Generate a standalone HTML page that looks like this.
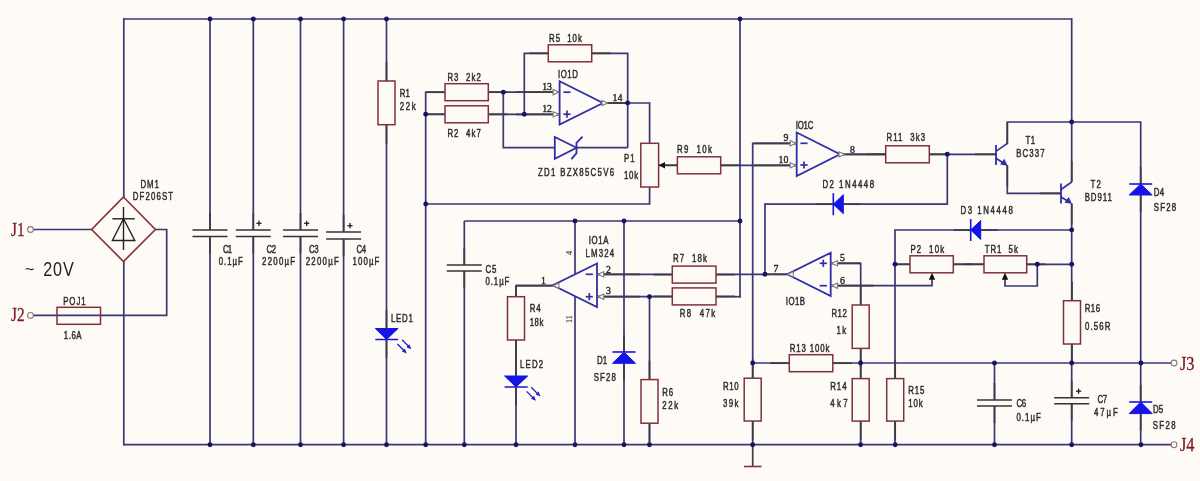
<!DOCTYPE html>
<html><head><meta charset="utf-8"><style>
html,body{margin:0;padding:0;background:#fefaf6;width:1200px;height:481px;overflow:hidden;}
svg{display:block;will-change:transform;font-family:"Liberation Sans",sans-serif;}
</style></head><body>
<svg width="1200" height="481" viewBox="0 0 1200 481">
<rect width="1200" height="481" fill="#fefaf6"/>
<line x1="123.5" y1="19" x2="1071.7" y2="19" stroke="#3b3774" stroke-width="1.7"/>
<line x1="123.8" y1="18.15" x2="123.8" y2="197" stroke="#3b3774" stroke-width="1.7"/>
<line x1="123.8" y1="444.7" x2="1171.5" y2="444.7" stroke="#3b3774" stroke-width="1.7"/>
<line x1="123.8" y1="261" x2="123.8" y2="445.55" stroke="#3b3774" stroke-width="1.7"/>
<line x1="33" y1="229.5" x2="91.6" y2="229.5" stroke="#3b3774" stroke-width="1.7"/>
<polyline points="155.4,229.5 166.7,229.5 166.7,315.4 100.5,315.4" stroke="#3b3774" stroke-width="1.7" fill="none" stroke-linejoin="miter"/>
<line x1="33" y1="315.4" x2="100.5" y2="315.4" stroke="#3b3774" stroke-width="1.7"/>
<line x1="210" y1="19" x2="210" y2="230" stroke="#3b3774" stroke-width="1.7"/>
<line x1="210" y1="236.5" x2="210" y2="444.7" stroke="#3b3774" stroke-width="1.7"/>
<line x1="253.3" y1="19" x2="253.3" y2="230" stroke="#3b3774" stroke-width="1.7"/>
<line x1="253.3" y1="236.5" x2="253.3" y2="444.7" stroke="#3b3774" stroke-width="1.7"/>
<line x1="300.5" y1="19" x2="300.5" y2="230" stroke="#3b3774" stroke-width="1.7"/>
<line x1="300.5" y1="236.5" x2="300.5" y2="444.7" stroke="#3b3774" stroke-width="1.7"/>
<line x1="343.6" y1="19" x2="343.6" y2="232" stroke="#3b3774" stroke-width="1.7"/>
<line x1="343.6" y1="239" x2="343.6" y2="444.7" stroke="#3b3774" stroke-width="1.7"/>
<line x1="386.5" y1="19" x2="386.5" y2="81" stroke="#3b3774" stroke-width="1.7"/>
<line x1="386.5" y1="124.7" x2="386.5" y2="444.7" stroke="#3b3774" stroke-width="1.7"/>
<line x1="425.7" y1="91.4" x2="425.7" y2="444.7" stroke="#3b3774" stroke-width="1.7"/>
<line x1="425.7" y1="92.2" x2="445" y2="92.2" stroke="#3b3774" stroke-width="1.7"/>
<line x1="425.7" y1="114.3" x2="445" y2="114.3" stroke="#3b3774" stroke-width="1.7"/>
<line x1="488.3" y1="92.2" x2="559.6" y2="92.2" stroke="#3b3774" stroke-width="1.7"/>
<line x1="488.3" y1="114.3" x2="559.6" y2="114.3" stroke="#3b3774" stroke-width="1.7"/>
<polyline points="524.3,114.3 524.3,53.3 548.3,53.3" stroke="#3b3774" stroke-width="1.7" fill="none" stroke-linejoin="miter"/>
<polyline points="591.7,53.3 627.7,53.3 627.7,147.7" stroke="#3b3774" stroke-width="1.7" fill="none" stroke-linejoin="miter"/>
<polyline points="503.3,92.2 503.3,147.7 555,147.7" stroke="#3b3774" stroke-width="1.7" fill="none" stroke-linejoin="miter"/>
<line x1="576.5" y1="147.7" x2="627.7" y2="147.7" stroke="#3b3774" stroke-width="1.7"/>
<line x1="603" y1="103" x2="627.7" y2="103" stroke="#3c3c46" stroke-width="1.7"/>
<polyline points="627.7,103 649.6,103 649.6,143.3" stroke="#3b3774" stroke-width="1.7" fill="none" stroke-linejoin="miter"/>
<polyline points="649.6,187 649.6,204 425.7,204" stroke="#3b3774" stroke-width="1.7" fill="none" stroke-linejoin="miter"/>
<line x1="664" y1="165.3" x2="677.4" y2="165.3" stroke="#3c3c46" stroke-width="1.7"/>
<line x1="720.7" y1="165.3" x2="796.7" y2="165.3" stroke="#3b3774" stroke-width="1.7"/>
<line x1="464.3" y1="221" x2="740" y2="221" stroke="#3b3774" stroke-width="1.7"/>
<line x1="740" y1="19" x2="740" y2="297.5" stroke="#3b3774" stroke-width="1.7"/>
<line x1="464.3" y1="221" x2="464.3" y2="265" stroke="#3b3774" stroke-width="1.7"/>
<line x1="464.3" y1="271" x2="464.3" y2="444.7" stroke="#3b3774" stroke-width="1.7"/>
<line x1="575" y1="221" x2="575" y2="274" stroke="#3b3774" stroke-width="1.7"/>
<line x1="575" y1="296.5" x2="575" y2="444.7" stroke="#3b3774" stroke-width="1.7"/>
<line x1="624" y1="221" x2="624" y2="352" stroke="#3b3774" stroke-width="1.7"/>
<line x1="624" y1="363" x2="624" y2="444.7" stroke="#3b3774" stroke-width="1.7"/>
<polyline points="552.9,285.7 516,285.7 516,296.7" stroke="#3b3774" stroke-width="1.7" fill="none" stroke-linejoin="miter"/>
<line x1="516" y1="340" x2="516" y2="444.7" stroke="#3b3774" stroke-width="1.7"/>
<line x1="597" y1="274.3" x2="672.3" y2="274.3" stroke="#3b3774" stroke-width="1.7"/>
<line x1="716" y1="274.3" x2="787.3" y2="274.3" stroke="#3b3774" stroke-width="1.7"/>
<line x1="597" y1="296.7" x2="672.3" y2="296.7" stroke="#3b3774" stroke-width="1.7"/>
<line x1="716" y1="296.7" x2="740.85" y2="296.7" stroke="#3b3774" stroke-width="1.7"/>
<line x1="649.5" y1="296.7" x2="649.5" y2="379.6" stroke="#3b3774" stroke-width="1.7"/>
<line x1="649.5" y1="423.2" x2="649.5" y2="444.7" stroke="#3b3774" stroke-width="1.7"/>
<line x1="765" y1="203.35" x2="765" y2="274.3" stroke="#3b3774" stroke-width="1.7"/>
<line x1="765" y1="204.2" x2="833.3" y2="204.2" stroke="#3b3774" stroke-width="1.7"/>
<polyline points="843.3,204.2 947.3,204.2 947.3,154.3" stroke="#3b3774" stroke-width="1.7" fill="none" stroke-linejoin="miter"/>
<line x1="840" y1="154.3" x2="885.7" y2="154.3" stroke="#3b3774" stroke-width="1.7"/>
<line x1="929.3" y1="154.3" x2="996.6" y2="154.3" stroke="#3b3774" stroke-width="1.7"/>
<polyline points="796.7,143.3 752.7,143.3 752.7,378" stroke="#3b3774" stroke-width="1.7" fill="none" stroke-linejoin="miter"/>
<line x1="752.7" y1="421" x2="752.7" y2="444.7" stroke="#3b3774" stroke-width="1.7"/>
<line x1="752.7" y1="444.7" x2="752.7" y2="466.5" stroke="#3c3c46" stroke-width="1.7"/>
<line x1="744" y1="466.5" x2="761.5" y2="466.5" stroke="#80323a" stroke-width="1.6"/>
<line x1="752.7" y1="363" x2="789.3" y2="363" stroke="#3b3774" stroke-width="1.7"/>
<line x1="832.8" y1="363" x2="1171.5" y2="363" stroke="#3b3774" stroke-width="1.7"/>
<polyline points="830.7,263.3 860.7,263.3 860.7,305" stroke="#3b3774" stroke-width="1.7" fill="none" stroke-linejoin="miter"/>
<line x1="860.7" y1="348.4" x2="860.7" y2="378.6" stroke="#3b3774" stroke-width="1.7"/>
<line x1="860.7" y1="421.1" x2="860.7" y2="444.7" stroke="#3b3774" stroke-width="1.7"/>
<polyline points="830.7,285.7 932,285.7 932,279" stroke="#3b3774" stroke-width="1.7" fill="none" stroke-linejoin="miter"/>
<line x1="895" y1="229.15" x2="895" y2="378.6" stroke="#3b3774" stroke-width="1.7"/>
<line x1="895" y1="421.1" x2="895" y2="444.7" stroke="#3b3774" stroke-width="1.7"/>
<line x1="895" y1="230" x2="970.7" y2="230" stroke="#3b3774" stroke-width="1.7"/>
<line x1="980.7" y1="230" x2="1071.7" y2="230" stroke="#3b3774" stroke-width="1.7"/>
<line x1="895" y1="264.3" x2="910" y2="264.3" stroke="#3b3774" stroke-width="1.7"/>
<line x1="953.3" y1="264.3" x2="984" y2="264.3" stroke="#3b3774" stroke-width="1.7"/>
<line x1="1026.7" y1="264.3" x2="1071.7" y2="264.3" stroke="#3b3774" stroke-width="1.7"/>
<polyline points="1005,279 1005,286 1037.3,286 1037.3,264.3" stroke="#3b3774" stroke-width="1.7" fill="none" stroke-linejoin="miter"/>
<line x1="1071.7" y1="18.15" x2="1071.7" y2="182" stroke="#3b3774" stroke-width="1.7"/>
<line x1="1071.7" y1="203.5" x2="1071.7" y2="300.7" stroke="#3b3774" stroke-width="1.7"/>
<line x1="1071.7" y1="344" x2="1071.7" y2="397.6" stroke="#3b3774" stroke-width="1.7"/>
<line x1="1071.7" y1="403.6" x2="1071.7" y2="444.7" stroke="#3b3774" stroke-width="1.7"/>
<polyline points="1007.3,144.3 1007.3,122 1140.7,122 1140.7,184" stroke="#3b3774" stroke-width="1.7" fill="none" stroke-linejoin="miter"/>
<polyline points="1007.3,165 1007.3,193.4 1061,193.4" stroke="#3b3774" stroke-width="1.7" fill="none" stroke-linejoin="miter"/>
<line x1="1140.7" y1="195" x2="1140.7" y2="402" stroke="#3b3774" stroke-width="1.7"/>
<line x1="1140.7" y1="413.6" x2="1140.7" y2="444.7" stroke="#3b3774" stroke-width="1.7"/>
<line x1="994.5" y1="363" x2="994.5" y2="399.7" stroke="#3b3774" stroke-width="1.7"/>
<line x1="994.5" y1="406" x2="994.5" y2="444.7" stroke="#3b3774" stroke-width="1.7"/>
<polygon points="123.5,197 155.4,229.5 123.5,261.5 91.6,229.5" stroke="#80323a" stroke-width="1.6" fill="none"/>
<line x1="123.5" y1="207" x2="123.5" y2="250" stroke="#222" stroke-width="1.4"/>
<line x1="112.4" y1="218.8" x2="134.8" y2="218.8" stroke="#222" stroke-width="1.4"/>
<polygon points="123.5,218.8 112.4,240.5 134.8,240.5" stroke="#222" stroke-width="1.4" fill="none"/>
<circle cx="30.5" cy="229.5" r="2.9" fill="none" stroke="#8a7a7a" stroke-width="1.1"/>
<circle cx="30.5" cy="315.4" r="2.9" fill="none" stroke="#8a7a7a" stroke-width="1.1"/>
<circle cx="1174" cy="363" r="2.9" fill="none" stroke="#8a7a7a" stroke-width="1.1"/>
<circle cx="1174" cy="444.7" r="2.9" fill="none" stroke="#8a7a7a" stroke-width="1.1"/>
<rect x="57" y="307.3" width="43.5" height="17.0" stroke="#80323a" stroke-width="1.5" fill="none"/>
<line x1="192.5" y1="230" x2="227.5" y2="230" stroke="#333338" stroke-width="1.6"/>
<line x1="192.5" y1="236.5" x2="227.5" y2="236.5" stroke="#333338" stroke-width="1.6"/>
<line x1="210" y1="213" x2="210" y2="230" stroke="#3c3c46" stroke-width="1.7"/>
<line x1="210" y1="236.5" x2="210" y2="253.5" stroke="#3c3c46" stroke-width="1.7"/>
<line x1="235.8" y1="230" x2="270.8" y2="230" stroke="#333338" stroke-width="1.6"/>
<line x1="235.8" y1="236.5" x2="270.8" y2="236.5" stroke="#333338" stroke-width="1.6"/>
<line x1="253.3" y1="213" x2="253.3" y2="230" stroke="#3c3c46" stroke-width="1.7"/>
<line x1="253.3" y1="236.5" x2="253.3" y2="253.5" stroke="#3c3c46" stroke-width="1.7"/>
<line x1="256.4" y1="223.3" x2="261.6" y2="223.3" stroke="#222" stroke-width="1.3"/>
<line x1="259" y1="220.70000000000002" x2="259" y2="225.9" stroke="#222" stroke-width="1.3"/>
<line x1="283.0" y1="230" x2="318.0" y2="230" stroke="#333338" stroke-width="1.6"/>
<line x1="283.0" y1="236.5" x2="318.0" y2="236.5" stroke="#333338" stroke-width="1.6"/>
<line x1="300.5" y1="213" x2="300.5" y2="230" stroke="#3c3c46" stroke-width="1.7"/>
<line x1="300.5" y1="236.5" x2="300.5" y2="253.5" stroke="#3c3c46" stroke-width="1.7"/>
<line x1="304.09999999999997" y1="223.3" x2="309.3" y2="223.3" stroke="#222" stroke-width="1.3"/>
<line x1="306.7" y1="220.70000000000002" x2="306.7" y2="225.9" stroke="#222" stroke-width="1.3"/>
<line x1="326.1" y1="232" x2="361.1" y2="232" stroke="#333338" stroke-width="1.6"/>
<line x1="326.1" y1="239" x2="361.1" y2="239" stroke="#333338" stroke-width="1.6"/>
<line x1="343.6" y1="215" x2="343.6" y2="232" stroke="#3c3c46" stroke-width="1.7"/>
<line x1="343.6" y1="239" x2="343.6" y2="256" stroke="#3c3c46" stroke-width="1.7"/>
<line x1="347.4" y1="225.7" x2="352.6" y2="225.7" stroke="#222" stroke-width="1.3"/>
<line x1="350" y1="223.1" x2="350" y2="228.29999999999998" stroke="#222" stroke-width="1.3"/>
<line x1="446.8" y1="265" x2="481.8" y2="265" stroke="#333338" stroke-width="1.6"/>
<line x1="446.8" y1="271" x2="481.8" y2="271" stroke="#333338" stroke-width="1.6"/>
<line x1="464.3" y1="248" x2="464.3" y2="265" stroke="#3c3c46" stroke-width="1.7"/>
<line x1="464.3" y1="271" x2="464.3" y2="288" stroke="#3c3c46" stroke-width="1.7"/>
<line x1="977.0" y1="400" x2="1012.0" y2="400" stroke="#333338" stroke-width="1.6"/>
<line x1="977.0" y1="406" x2="1012.0" y2="406" stroke="#333338" stroke-width="1.6"/>
<line x1="994.5" y1="383" x2="994.5" y2="400" stroke="#3c3c46" stroke-width="1.7"/>
<line x1="994.5" y1="406" x2="994.5" y2="423" stroke="#3c3c46" stroke-width="1.7"/>
<line x1="1054.2" y1="397.8" x2="1089.2" y2="397.8" stroke="#333338" stroke-width="1.6"/>
<line x1="1054.2" y1="403.8" x2="1089.2" y2="403.8" stroke="#333338" stroke-width="1.6"/>
<line x1="1071.7" y1="380.8" x2="1071.7" y2="397.8" stroke="#3c3c46" stroke-width="1.7"/>
<line x1="1071.7" y1="403.8" x2="1071.7" y2="420.8" stroke="#3c3c46" stroke-width="1.7"/>
<line x1="1076.0" y1="391.2" x2="1081.1999999999998" y2="391.2" stroke="#222" stroke-width="1.3"/>
<line x1="1078.6" y1="388.59999999999997" x2="1078.6" y2="393.8" stroke="#222" stroke-width="1.3"/>
<line x1="386.5" y1="62" x2="386.5" y2="81" stroke="#3c3c46" stroke-width="1.7"/>
<line x1="386.5" y1="124.7" x2="386.5" y2="143.7" stroke="#3c3c46" stroke-width="1.7"/>
<rect x="378.0" y="81" width="17.0" height="43.7" stroke="#80323a" stroke-width="1.5" fill="none"/>
<line x1="426" y1="92.2" x2="445" y2="92.2" stroke="#3c3c46" stroke-width="1.7"/>
<line x1="488.3" y1="92.2" x2="507.3" y2="92.2" stroke="#3c3c46" stroke-width="1.7"/>
<rect x="445" y="83.7" width="43.30000000000001" height="17.0" stroke="#80323a" stroke-width="1.5" fill="none"/>
<line x1="426" y1="114.3" x2="445" y2="114.3" stroke="#3c3c46" stroke-width="1.7"/>
<line x1="488.3" y1="114.3" x2="507.3" y2="114.3" stroke="#3c3c46" stroke-width="1.7"/>
<rect x="445" y="105.8" width="43.30000000000001" height="17.0" stroke="#80323a" stroke-width="1.5" fill="none"/>
<line x1="529.3" y1="53.3" x2="548.3" y2="53.3" stroke="#3c3c46" stroke-width="1.7"/>
<line x1="591.7" y1="53.3" x2="610.7" y2="53.3" stroke="#3c3c46" stroke-width="1.7"/>
<rect x="548.3" y="44.8" width="43.40000000000009" height="17.0" stroke="#80323a" stroke-width="1.5" fill="none"/>
<rect x="640.8" y="143.3" width="17.800000000000068" height="43.69999999999999" stroke="#80323a" stroke-width="1.5" fill="none"/>
<line x1="658.4" y1="165.3" x2="677.4" y2="165.3" stroke="#3c3c46" stroke-width="1.7"/>
<line x1="720.7" y1="165.3" x2="739.7" y2="165.3" stroke="#3c3c46" stroke-width="1.7"/>
<rect x="677.4" y="156.8" width="43.30000000000007" height="17.0" stroke="#80323a" stroke-width="1.5" fill="none"/>
<line x1="516" y1="285.7" x2="516" y2="296.7" stroke="#3c3c46" stroke-width="1.7"/>
<line x1="516" y1="340" x2="516" y2="359" stroke="#3c3c46" stroke-width="1.7"/>
<rect x="507.5" y="296.7" width="17.0" height="43.30000000000001" stroke="#80323a" stroke-width="1.5" fill="none"/>
<line x1="653.3" y1="274.6" x2="672.3" y2="274.6" stroke="#3c3c46" stroke-width="1.7"/>
<line x1="716" y1="274.6" x2="735" y2="274.6" stroke="#3c3c46" stroke-width="1.7"/>
<rect x="672.3" y="266.1" width="43.700000000000045" height="17.0" stroke="#80323a" stroke-width="1.5" fill="none"/>
<line x1="653.3" y1="296.4" x2="672.3" y2="296.4" stroke="#3c3c46" stroke-width="1.7"/>
<line x1="716" y1="296.4" x2="735" y2="296.4" stroke="#3c3c46" stroke-width="1.7"/>
<rect x="672.3" y="287.9" width="43.700000000000045" height="17.0" stroke="#80323a" stroke-width="1.5" fill="none"/>
<line x1="649.5" y1="360.6" x2="649.5" y2="379.6" stroke="#3c3c46" stroke-width="1.7"/>
<line x1="649.5" y1="423.2" x2="649.5" y2="442.2" stroke="#3c3c46" stroke-width="1.7"/>
<rect x="641.0" y="379.6" width="17.0" height="43.599999999999966" stroke="#80323a" stroke-width="1.5" fill="none"/>
<line x1="866.7" y1="154.3" x2="885.7" y2="154.3" stroke="#3c3c46" stroke-width="1.7"/>
<line x1="929.3" y1="154.3" x2="948.3" y2="154.3" stroke="#3c3c46" stroke-width="1.7"/>
<rect x="885.7" y="145.8" width="43.59999999999991" height="17.0" stroke="#80323a" stroke-width="1.5" fill="none"/>
<line x1="860.7" y1="286" x2="860.7" y2="305" stroke="#3c3c46" stroke-width="1.7"/>
<line x1="860.7" y1="348.4" x2="860.7" y2="367.4" stroke="#3c3c46" stroke-width="1.7"/>
<rect x="852.2" y="305" width="17.0" height="43.39999999999998" stroke="#80323a" stroke-width="1.5" fill="none"/>
<line x1="770.3" y1="363.2" x2="789.3" y2="363.2" stroke="#3c3c46" stroke-width="1.7"/>
<line x1="832.8" y1="363.2" x2="851.8" y2="363.2" stroke="#3c3c46" stroke-width="1.7"/>
<rect x="789.3" y="354.7" width="43.5" height="17.0" stroke="#80323a" stroke-width="1.5" fill="none"/>
<line x1="752.7" y1="359.2" x2="752.7" y2="378.2" stroke="#3c3c46" stroke-width="1.7"/>
<line x1="752.7" y1="421" x2="752.7" y2="440" stroke="#3c3c46" stroke-width="1.7"/>
<rect x="744.2" y="378.2" width="17.0" height="42.80000000000001" stroke="#80323a" stroke-width="1.5" fill="none"/>
<line x1="860.7" y1="359.6" x2="860.7" y2="378.6" stroke="#3c3c46" stroke-width="1.7"/>
<line x1="860.7" y1="421.1" x2="860.7" y2="440.1" stroke="#3c3c46" stroke-width="1.7"/>
<rect x="852.2" y="378.6" width="17.0" height="42.5" stroke="#80323a" stroke-width="1.5" fill="none"/>
<line x1="895.2" y1="359.6" x2="895.2" y2="378.6" stroke="#3c3c46" stroke-width="1.7"/>
<line x1="895.2" y1="421.1" x2="895.2" y2="440.1" stroke="#3c3c46" stroke-width="1.7"/>
<rect x="886.7" y="378.6" width="17.0" height="42.5" stroke="#80323a" stroke-width="1.5" fill="none"/>
<line x1="895" y1="264.3" x2="910" y2="264.3" stroke="#3c3c46" stroke-width="1.7"/>
<line x1="953.3" y1="264.3" x2="972.3" y2="264.3" stroke="#3c3c46" stroke-width="1.7"/>
<rect x="910" y="255.8" width="43.299999999999955" height="17.0" stroke="#80323a" stroke-width="1.5" fill="none"/>
<line x1="965" y1="264.3" x2="984" y2="264.3" stroke="#3c3c46" stroke-width="1.7"/>
<line x1="1026.7" y1="264.3" x2="1045.7" y2="264.3" stroke="#3c3c46" stroke-width="1.7"/>
<rect x="984" y="255.8" width="42.700000000000045" height="17.0" stroke="#80323a" stroke-width="1.5" fill="none"/>
<line x1="1072" y1="281.7" x2="1072" y2="300.7" stroke="#3c3c46" stroke-width="1.7"/>
<line x1="1072" y1="344" x2="1072" y2="363" stroke="#3c3c46" stroke-width="1.7"/>
<rect x="1063.5" y="300.7" width="17.0" height="43.30000000000001" stroke="#80323a" stroke-width="1.5" fill="none"/>
<polygon points="658.6,165.3 665,162 665,168.6" fill="#111"/>
<polygon points="932,272.7 928.8,279.7 935.2,279.7" fill="#111"/>
<polygon points="1005,272.7 1001.8,279.7 1008.2,279.7" fill="#111"/>
<polygon points="375.3,328.5 398.1,328.5 386.5,339.5" stroke="#1414e6" stroke-width="1" fill="#1414e6"/>
<line x1="375.3" y1="339.5" x2="398.1" y2="339.5" stroke="#1414e6" stroke-width="1.5"/>
<polygon points="504.6,376 527.7,376 516,387" stroke="#1414e6" stroke-width="1" fill="#1414e6"/>
<line x1="504.6" y1="387" x2="527.7" y2="387" stroke="#1414e6" stroke-width="1.5"/>
<line x1="402.0" y1="339.8" x2="409.0" y2="346.8" stroke="#2222c0" stroke-width="1.3"/>
<polygon points="411.4,349.2 406.4,347.2 409.4,344.2" fill="#2222c0"/>
<line x1="397.4" y1="344.0" x2="404.4" y2="351.0" stroke="#2222c0" stroke-width="1.3"/>
<polygon points="406.79999999999995,353.4 401.79999999999995,351.4 404.79999999999995,348.4" fill="#2222c0"/>
<line x1="531.2" y1="387.2" x2="538.2" y2="394.2" stroke="#2222c0" stroke-width="1.3"/>
<polygon points="540.6,396.59999999999997 535.6,394.59999999999997 538.6,391.59999999999997" fill="#2222c0"/>
<line x1="526.6" y1="391.4" x2="533.6" y2="398.4" stroke="#2222c0" stroke-width="1.3"/>
<polygon points="536.0,400.79999999999995 531.0,398.79999999999995 534.0,395.79999999999995" fill="#2222c0"/>
<line x1="386.5" y1="310" x2="386.5" y2="328.5" stroke="#3c3c46" stroke-width="1.7"/>
<line x1="386.5" y1="339.5" x2="386.5" y2="358" stroke="#3c3c46" stroke-width="1.7"/>
<line x1="516" y1="357" x2="516" y2="376" stroke="#3c3c46" stroke-width="1.7"/>
<line x1="516" y1="387" x2="516" y2="405" stroke="#3c3c46" stroke-width="1.7"/>
<line x1="624" y1="335" x2="624" y2="352" stroke="#3c3c46" stroke-width="1.7"/>
<line x1="624" y1="363.3" x2="624" y2="380.3" stroke="#3c3c46" stroke-width="1.7"/>
<line x1="1140.7" y1="167" x2="1140.7" y2="184" stroke="#3c3c46" stroke-width="1.7"/>
<line x1="1140.7" y1="195" x2="1140.7" y2="212" stroke="#3c3c46" stroke-width="1.7"/>
<line x1="1140.7" y1="385" x2="1140.7" y2="402" stroke="#3c3c46" stroke-width="1.7"/>
<line x1="1140.7" y1="413.6" x2="1140.7" y2="430.6" stroke="#3c3c46" stroke-width="1.7"/>
<line x1="816.3" y1="204.2" x2="833.3" y2="204.2" stroke="#3c3c46" stroke-width="1.7"/>
<line x1="843.3" y1="204.2" x2="860.3" y2="204.2" stroke="#3c3c46" stroke-width="1.7"/>
<line x1="953.7" y1="230" x2="970.7" y2="230" stroke="#3c3c46" stroke-width="1.7"/>
<line x1="980.7" y1="230" x2="997.7" y2="230" stroke="#3c3c46" stroke-width="1.7"/>
<polygon points="624,352 612.5,363.3 635.5,363.3" stroke="#1414e6" stroke-width="1" fill="#1414e6"/>
<line x1="612.5" y1="352" x2="635.5" y2="352" stroke="#1414e6" stroke-width="1.6"/>
<polygon points="1140.7,184 1129.2,195 1152.2,195" stroke="#1414e6" stroke-width="1" fill="#1414e6"/>
<line x1="1129.2" y1="184" x2="1152.2" y2="184" stroke="#1414e6" stroke-width="1.6"/>
<polygon points="1140.7,402 1129.2,413.6 1152.2,413.6" stroke="#1414e6" stroke-width="1" fill="#1414e6"/>
<line x1="1129.2" y1="402" x2="1152.2" y2="402" stroke="#1414e6" stroke-width="1.6"/>
<polygon points="833.3,204.2 843.3,194.7 843.3,213.7" stroke="#1414e6" stroke-width="1" fill="#1414e6"/>
<line x1="833.3" y1="193.2" x2="833.3" y2="215.2" stroke="#1414e6" stroke-width="1.6"/>
<polygon points="970.7,230 980.7,220.5 980.7,239.5" stroke="#1414e6" stroke-width="1" fill="#1414e6"/>
<line x1="970.7" y1="219" x2="970.7" y2="241" stroke="#1414e6" stroke-width="1.6"/>
<polygon points="554.8,137 576.5,147.7 554.8,158.7" stroke="#2e2ea8" stroke-width="1.8" fill="none"/>
<polyline points="582.6,136.7 576.5,142.8 576.5,153.1 571.4,159.2" stroke="#2e2ea8" stroke-width="1.8" fill="none" stroke-linejoin="miter"/>
<line x1="516" y1="92.2" x2="559.6" y2="92.2" stroke="#3c3c46" stroke-width="1.7"/>
<line x1="516" y1="114.3" x2="559.6" y2="114.3" stroke="#3c3c46" stroke-width="1.7"/>
<line x1="603" y1="103" x2="627.7" y2="103" stroke="#3c3c46" stroke-width="1.7"/>
<line x1="597" y1="274.3" x2="640" y2="274.3" stroke="#3c3c46" stroke-width="1.7"/>
<line x1="597" y1="296.7" x2="640" y2="296.7" stroke="#3c3c46" stroke-width="1.7"/>
<line x1="552.9" y1="285.7" x2="516" y2="285.7" stroke="#3c3c46" stroke-width="1.7"/>
<line x1="753.7" y1="143.3" x2="796.7" y2="143.3" stroke="#3c3c46" stroke-width="1.7"/>
<line x1="753.7" y1="165.3" x2="796.7" y2="165.3" stroke="#3c3c46" stroke-width="1.7"/>
<line x1="840" y1="154.3" x2="885.7" y2="154.3" stroke="#3c3c46" stroke-width="1.7"/>
<line x1="830.7" y1="263.3" x2="860.7" y2="263.3" stroke="#3c3c46" stroke-width="1.7"/>
<line x1="830.7" y1="285.7" x2="873.7" y2="285.7" stroke="#3c3c46" stroke-width="1.7"/>
<line x1="787.3" y1="274.3" x2="765" y2="274.3" stroke="#3c3c46" stroke-width="1.7"/>
<line x1="975" y1="154.3" x2="996.6" y2="154.3" stroke="#3c3c46" stroke-width="1.7"/>
<line x1="1040" y1="193.4" x2="1061" y2="193.4" stroke="#3c3c46" stroke-width="1.7"/>
<polygon points="559.6,81.2 603,103 559.6,124.6" stroke="#2e2ea8" stroke-width="1.8" fill="none"/>
<line x1="563.4" y1="92.2" x2="570.6" y2="92.2" stroke="#2e2ea8" stroke-width="1.7"/>
<line x1="563.4" y1="114.2" x2="570.6" y2="114.2" stroke="#2e2ea8" stroke-width="1.7"/>
<line x1="567" y1="110.60000000000001" x2="567" y2="117.8" stroke="#2e2ea8" stroke-width="1.7"/>
<polygon points="553.1,89.60000000000001 558.8000000000001,92.2 553.1,94.8" fill="#fff" stroke="#7a7a7a" stroke-width="1.1"/>
<polygon points="553.1,111.7 558.8000000000001,114.3 553.1,116.89999999999999" fill="#fff" stroke="#7a7a7a" stroke-width="1.1"/>
<polygon points="602.0,100.4 607.7,103 602.0,105.6" fill="#fff" stroke="#7a7a7a" stroke-width="1.1"/>
<polygon points="597,263.5 552.9,285.2 597,307" stroke="#2e2ea8" stroke-width="1.8" fill="none"/>
<line x1="585.6999999999999" y1="274.3" x2="592.9" y2="274.3" stroke="#2e2ea8" stroke-width="1.7"/>
<line x1="585.6999999999999" y1="296.7" x2="592.9" y2="296.7" stroke="#2e2ea8" stroke-width="1.7"/>
<line x1="589.3" y1="293.09999999999997" x2="589.3" y2="300.3" stroke="#2e2ea8" stroke-width="1.7"/>
<polygon points="603.7,271.7 598.0,274.3 603.7,276.90000000000003" fill="#fff" stroke="#7a7a7a" stroke-width="1.1"/>
<polygon points="603.7,294.09999999999997 598.0,296.7 603.7,299.3" fill="#fff" stroke="#7a7a7a" stroke-width="1.1"/>
<polygon points="558.9,283.09999999999997 553.1999999999999,285.7 558.9,288.3" fill="#fff" stroke="#7a7a7a" stroke-width="1.1"/>
<polygon points="796.7,132.5 840,154.3 796.7,176" stroke="#2e2ea8" stroke-width="1.8" fill="none"/>
<line x1="800.4" y1="143.3" x2="807.6" y2="143.3" stroke="#2e2ea8" stroke-width="1.7"/>
<line x1="800.4" y1="165" x2="807.6" y2="165" stroke="#2e2ea8" stroke-width="1.7"/>
<line x1="804" y1="161.4" x2="804" y2="168.6" stroke="#2e2ea8" stroke-width="1.7"/>
<polygon points="790.2,140.70000000000002 795.9000000000001,143.3 790.2,145.9" fill="#fff" stroke="#7a7a7a" stroke-width="1.1"/>
<polygon points="790.2,162.70000000000002 795.9000000000001,165.3 790.2,167.9" fill="#fff" stroke="#7a7a7a" stroke-width="1.1"/>
<polygon points="839.0,151.70000000000002 844.7,154.3 839.0,156.9" fill="#fff" stroke="#7a7a7a" stroke-width="1.1"/>
<polygon points="830.7,252.7 787.3,274.3 830.7,296" stroke="#2e2ea8" stroke-width="1.8" fill="none"/>
<line x1="819.6999999999999" y1="285.7" x2="826.9" y2="285.7" stroke="#2e2ea8" stroke-width="1.7"/>
<line x1="819.6999999999999" y1="263.3" x2="826.9" y2="263.3" stroke="#2e2ea8" stroke-width="1.7"/>
<line x1="823.3" y1="259.7" x2="823.3" y2="266.90000000000003" stroke="#2e2ea8" stroke-width="1.7"/>
<polygon points="837.4,260.7 831.6999999999999,263.3 837.4,265.90000000000003" fill="#fff" stroke="#7a7a7a" stroke-width="1.1"/>
<polygon points="837.4,283.09999999999997 831.6999999999999,285.7 837.4,288.3" fill="#fff" stroke="#7a7a7a" stroke-width="1.1"/>
<polygon points="793.3,271.7 787.5999999999999,274.3 793.3,276.90000000000003" fill="#fff" stroke="#7a7a7a" stroke-width="1.1"/>
<line x1="1007.3" y1="122.30000000000001" x2="1007.3" y2="143.3" stroke="#3c3c46" stroke-width="1.7"/>
<line x1="1007.3" y1="165.4" x2="1007.3" y2="186.4" stroke="#3c3c46" stroke-width="1.7"/>
<line x1="996" y1="145" x2="996" y2="165" stroke="#2e2ea8" stroke-width="1.8"/>
<line x1="996" y1="151.3" x2="1007.3" y2="143.3" stroke="#2e2ea8" stroke-width="1.6"/>
<line x1="996" y1="158.3" x2="1005.3" y2="164.20000000000002" stroke="#2e2ea8" stroke-width="1.6"/>
<polygon points="1007.5999999999999,165.70000000000002 1000.0999999999999,164.6 1004.3,158.8" fill="#2e2ea8"/>
<line x1="1071.7" y1="161" x2="1071.7" y2="182" stroke="#3c3c46" stroke-width="1.7"/>
<line x1="1071.7" y1="203.5" x2="1071.7" y2="224.5" stroke="#3c3c46" stroke-width="1.7"/>
<line x1="1061" y1="183.5" x2="1061" y2="203.5" stroke="#2e2ea8" stroke-width="1.8"/>
<line x1="1061" y1="189.5" x2="1071.7" y2="182" stroke="#2e2ea8" stroke-width="1.6"/>
<line x1="1061" y1="197" x2="1069.7" y2="202.3" stroke="#2e2ea8" stroke-width="1.6"/>
<polygon points="1072.0,203.8 1064.5,202.7 1068.7,196.9" fill="#2e2ea8"/>
<circle cx="210" cy="19" r="2.45" fill="#161466"/>
<circle cx="253.3" cy="19" r="2.45" fill="#161466"/>
<circle cx="300.5" cy="19" r="2.45" fill="#161466"/>
<circle cx="343.6" cy="19" r="2.45" fill="#161466"/>
<circle cx="386.5" cy="19" r="2.45" fill="#161466"/>
<circle cx="740" cy="19" r="2.45" fill="#161466"/>
<circle cx="210" cy="444.7" r="2.45" fill="#161466"/>
<circle cx="253.3" cy="444.7" r="2.45" fill="#161466"/>
<circle cx="300.5" cy="444.7" r="2.45" fill="#161466"/>
<circle cx="343.6" cy="444.7" r="2.45" fill="#161466"/>
<circle cx="386.5" cy="444.7" r="2.45" fill="#161466"/>
<circle cx="425.7" cy="444.7" r="2.45" fill="#161466"/>
<circle cx="464.3" cy="444.7" r="2.45" fill="#161466"/>
<circle cx="516" cy="444.7" r="2.45" fill="#161466"/>
<circle cx="575" cy="444.7" r="2.45" fill="#161466"/>
<circle cx="624" cy="444.7" r="2.45" fill="#161466"/>
<circle cx="649.5" cy="444.7" r="2.45" fill="#161466"/>
<circle cx="752.7" cy="444.7" r="2.45" fill="#161466"/>
<circle cx="860.6" cy="444.7" r="2.45" fill="#161466"/>
<circle cx="895.2" cy="444.7" r="2.45" fill="#161466"/>
<circle cx="994.5" cy="444.7" r="2.45" fill="#161466"/>
<circle cx="1071.7" cy="444.7" r="2.45" fill="#161466"/>
<circle cx="1141" cy="444.7" r="2.45" fill="#161466"/>
<circle cx="425.7" cy="114.3" r="2.45" fill="#161466"/>
<circle cx="425.7" cy="204" r="2.45" fill="#161466"/>
<circle cx="503.3" cy="92.2" r="2.45" fill="#161466"/>
<circle cx="524.3" cy="114.3" r="2.45" fill="#161466"/>
<circle cx="627.7" cy="103" r="2.45" fill="#161466"/>
<circle cx="575" cy="221" r="2.45" fill="#161466"/>
<circle cx="624" cy="221" r="2.45" fill="#161466"/>
<circle cx="740" cy="221" r="2.45" fill="#161466"/>
<circle cx="649.5" cy="296.7" r="2.45" fill="#161466"/>
<circle cx="765" cy="274.3" r="2.45" fill="#161466"/>
<circle cx="947.3" cy="154.3" r="2.45" fill="#161466"/>
<circle cx="752.7" cy="363" r="2.45" fill="#161466"/>
<circle cx="860.6" cy="363" r="2.45" fill="#161466"/>
<circle cx="994.5" cy="363" r="2.45" fill="#161466"/>
<circle cx="1071.7" cy="363" r="2.45" fill="#161466"/>
<circle cx="1141" cy="363" r="2.45" fill="#161466"/>
<circle cx="895" cy="264.3" r="2.45" fill="#161466"/>
<circle cx="1037.3" cy="264.3" r="2.45" fill="#161466"/>
<circle cx="1071.7" cy="264.3" r="2.45" fill="#161466"/>
<circle cx="1071.7" cy="230" r="2.45" fill="#161466"/>
<circle cx="1071.7" cy="122" r="2.45" fill="#161466"/>
<text transform="translate(140.6,187.85) scale(0.7,1)" font-size="11.2" fill="#2e2e2e" font-family="Liberation Sans" textLength="26.0" lengthAdjust="spacing" stroke="#2e2e2e" stroke-width="0.5" style="white-space:pre">DM1</text>
<text transform="translate(132.8,200.45) scale(0.7,1)" font-size="11.2" fill="#2e2e2e" font-family="Liberation Sans" textLength="57.57" lengthAdjust="spacing" stroke="#2e2e2e" stroke-width="0.5" style="white-space:pre">DF206ST</text>
<text transform="translate(63.2,304.65) scale(0.7,1)" font-size="11.2" fill="#2e2e2e" font-family="Liberation Sans" textLength="32.0" lengthAdjust="spacing" stroke="#2e2e2e" stroke-width="0.5" style="white-space:pre">POJ1</text>
<text transform="translate(63.7,339.25) scale(0.7,1)" font-size="11.2" fill="#2e2e2e" font-family="Liberation Sans" textLength="25.57" lengthAdjust="spacing" stroke="#2e2e2e" stroke-width="0.5" style="white-space:pre">1.6A</text>
<text transform="translate(223.0,252.85) scale(0.7,1)" font-size="11.2" fill="#2e2e2e" font-family="Liberation Sans" textLength="13.0" lengthAdjust="spacing" stroke="#2e2e2e" stroke-width="0.5" style="white-space:pre">C1</text>
<text transform="translate(218.7,264.85) scale(0.7,1)" font-size="11.2" fill="#2e2e2e" font-family="Liberation Sans" textLength="34.43" lengthAdjust="spacing" stroke="#2e2e2e" stroke-width="0.5" style="white-space:pre">0.1µF</text>
<text transform="translate(266.4,252.85) scale(0.7,1)" font-size="11.2" fill="#2e2e2e" font-family="Liberation Sans" textLength="13.86" lengthAdjust="spacing" stroke="#2e2e2e" stroke-width="0.5" style="white-space:pre">C2</text>
<text transform="translate(262.0,264.85) scale(0.7,1)" font-size="11.2" fill="#2e2e2e" font-family="Liberation Sans" textLength="47.29" lengthAdjust="spacing" stroke="#2e2e2e" stroke-width="0.5" style="white-space:pre">2200µF</text>
<text transform="translate(309.0,252.85) scale(0.7,1)" font-size="11.2" fill="#2e2e2e" font-family="Liberation Sans" textLength="13.71" lengthAdjust="spacing" stroke="#2e2e2e" stroke-width="0.5" style="white-space:pre">C3</text>
<text transform="translate(305.7,264.85) scale(0.7,1)" font-size="11.2" fill="#2e2e2e" font-family="Liberation Sans" textLength="47.29" lengthAdjust="spacing" stroke="#2e2e2e" stroke-width="0.5" style="white-space:pre">2200µF</text>
<text transform="translate(356.4,252.85) scale(0.7,1)" font-size="11.2" fill="#2e2e2e" font-family="Liberation Sans" textLength="13.86" lengthAdjust="spacing" stroke="#2e2e2e" stroke-width="0.5" style="white-space:pre">C4</text>
<text transform="translate(352.4,264.85) scale(0.7,1)" font-size="11.2" fill="#2e2e2e" font-family="Liberation Sans" textLength="38.57" lengthAdjust="spacing" stroke="#2e2e2e" stroke-width="0.5" style="white-space:pre">100µF</text>
<text transform="translate(399.7,96.85) scale(0.7,1)" font-size="11.2" fill="#2e2e2e" font-family="Liberation Sans" textLength="14.57" lengthAdjust="spacing" stroke="#2e2e2e" stroke-width="0.5" style="white-space:pre">R1</text>
<text transform="translate(399.7,110.05) scale(0.7,1)" font-size="11.2" fill="#2e2e2e" font-family="Liberation Sans" textLength="22.86" lengthAdjust="spacing" stroke="#2e2e2e" stroke-width="0.5" style="white-space:pre">22k</text>
<text transform="translate(391.0,321.55) scale(0.7,1)" font-size="11.2" fill="#2e2e2e" font-family="Liberation Sans" textLength="31.14" lengthAdjust="spacing" stroke="#2e2e2e" stroke-width="0.5" style="white-space:pre">LED1</text>
<text transform="translate(447.4,81.15) scale(0.7,1)" font-size="11.2" fill="#2e2e2e" font-family="Liberation Sans" textLength="47.71" lengthAdjust="spacing" stroke="#2e2e2e" stroke-width="0.5" style="white-space:pre">R3  2k2</text>
<text transform="translate(447.4,136.55) scale(0.7,1)" font-size="11.2" fill="#2e2e2e" font-family="Liberation Sans" textLength="47.71" lengthAdjust="spacing" stroke="#2e2e2e" stroke-width="0.5" style="white-space:pre">R2  4k7</text>
<text transform="translate(549.0,41.55) scale(0.7,1)" font-size="11.2" fill="#2e2e2e" font-family="Liberation Sans" textLength="46.86" lengthAdjust="spacing" stroke="#2e2e2e" stroke-width="0.5" style="white-space:pre">R5  10k</text>
<text transform="translate(558.0,77.85) scale(0.7,1)" font-size="11.2" fill="#2e2e2e" font-family="Liberation Sans" textLength="28.29" lengthAdjust="spacing" stroke="#2e2e2e" stroke-width="0.5" style="white-space:pre">IO1D</text>
<text transform="translate(538.0,175.55) scale(0.7,1)" font-size="11.2" fill="#2e2e2e" font-family="Liberation Sans" textLength="108.71" lengthAdjust="spacing" stroke="#2e2e2e" stroke-width="0.5" style="white-space:pre">ZD1 BZX85C5V6</text>
<text transform="translate(623.9,162.15) scale(0.7,1)" font-size="11.2" fill="#2e2e2e" font-family="Liberation Sans" textLength="15.43" lengthAdjust="spacing" stroke="#2e2e2e" stroke-width="0.5" style="white-space:pre">P1</text>
<text transform="translate(623.9,179.35) scale(0.7,1)" font-size="11.2" fill="#2e2e2e" font-family="Liberation Sans" textLength="20.29" lengthAdjust="spacing" stroke="#2e2e2e" stroke-width="0.5" style="white-space:pre">10k</text>
<text transform="translate(677.0,153.15) scale(0.7,1)" font-size="11.2" fill="#2e2e2e" font-family="Liberation Sans" textLength="49.71" lengthAdjust="spacing" stroke="#2e2e2e" stroke-width="0.5" style="white-space:pre">R9  10k</text>
<text transform="translate(588.7,243.85) scale(0.7,1)" font-size="11.2" fill="#2e2e2e" font-family="Liberation Sans" textLength="28.14" lengthAdjust="spacing" stroke="#2e2e2e" stroke-width="0.5" style="white-space:pre">IO1A</text>
<text transform="translate(585.4,257.15) scale(0.7,1)" font-size="11.2" fill="#2e2e2e" font-family="Liberation Sans" textLength="41.0" lengthAdjust="spacing" stroke="#2e2e2e" stroke-width="0.5" style="white-space:pre">LM324</text>
<text transform="translate(485.4,272.85) scale(0.7,1)" font-size="11.2" fill="#2e2e2e" font-family="Liberation Sans" textLength="15.71" lengthAdjust="spacing" stroke="#2e2e2e" stroke-width="0.5" style="white-space:pre">C5</text>
<text transform="translate(485.4,284.85) scale(0.7,1)" font-size="11.2" fill="#2e2e2e" font-family="Liberation Sans" textLength="34.29" lengthAdjust="spacing" stroke="#2e2e2e" stroke-width="0.5" style="white-space:pre">0.1µF</text>
<text transform="translate(529.7,312.15) scale(0.7,1)" font-size="11.2" fill="#2e2e2e" font-family="Liberation Sans" textLength="15.57" lengthAdjust="spacing" stroke="#2e2e2e" stroke-width="0.5" style="white-space:pre">R4</text>
<text transform="translate(529.7,325.55) scale(0.7,1)" font-size="11.2" fill="#2e2e2e" font-family="Liberation Sans" textLength="19.57" lengthAdjust="spacing" stroke="#2e2e2e" stroke-width="0.5" style="white-space:pre">18k</text>
<text transform="translate(520.0,368.35) scale(0.7,1)" font-size="11.2" fill="#2e2e2e" font-family="Liberation Sans" textLength="33.0" lengthAdjust="spacing" stroke="#2e2e2e" stroke-width="0.5" style="white-space:pre">LED2</text>
<text transform="translate(597.0,363.85) scale(0.7,1)" font-size="11.2" fill="#2e2e2e" font-family="Liberation Sans" textLength="14.43" lengthAdjust="spacing" stroke="#2e2e2e" stroke-width="0.5" style="white-space:pre">D1</text>
<text transform="translate(593.7,381.35) scale(0.7,1)" font-size="11.2" fill="#2e2e2e" font-family="Liberation Sans" textLength="31.57" lengthAdjust="spacing" stroke="#2e2e2e" stroke-width="0.5" style="white-space:pre">SF28</text>
<text transform="translate(673.0,261.55) scale(0.7,1)" font-size="11.2" fill="#2e2e2e" font-family="Liberation Sans" textLength="48.29" lengthAdjust="spacing" stroke="#2e2e2e" stroke-width="0.5" style="white-space:pre">R7  18k</text>
<text transform="translate(679.7,316.55) scale(0.7,1)" font-size="11.2" fill="#2e2e2e" font-family="Liberation Sans" textLength="50.57" lengthAdjust="spacing" stroke="#2e2e2e" stroke-width="0.5" style="white-space:pre">R8  47k</text>
<text transform="translate(662.3,396.05) scale(0.7,1)" font-size="11.2" fill="#2e2e2e" font-family="Liberation Sans" textLength="15.43" lengthAdjust="spacing" stroke="#2e2e2e" stroke-width="0.5" style="white-space:pre">R6</text>
<text transform="translate(662.3,409.25) scale(0.7,1)" font-size="11.2" fill="#2e2e2e" font-family="Liberation Sans" textLength="22.57" lengthAdjust="spacing" stroke="#2e2e2e" stroke-width="0.5" style="white-space:pre">22k</text>
<text transform="translate(795.7,128.85) scale(0.7,1)" font-size="11.2" fill="#2e2e2e" font-family="Liberation Sans" textLength="25.29" lengthAdjust="spacing" stroke="#2e2e2e" stroke-width="0.5" style="white-space:pre">IO1C</text>
<text transform="translate(886.4,140.55) scale(0.7,1)" font-size="11.2" fill="#2e2e2e" font-family="Liberation Sans" textLength="55.29" lengthAdjust="spacing" stroke="#2e2e2e" stroke-width="0.5" style="white-space:pre">R11  3k3</text>
<text transform="translate(822.4,187.85) scale(0.7,1)" font-size="11.2" fill="#2e2e2e" font-family="Liberation Sans" textLength="73.86" lengthAdjust="spacing" stroke="#2e2e2e" stroke-width="0.5" style="white-space:pre">D2 1N4448</text>
<text transform="translate(785.7,304.85) scale(0.7,1)" font-size="11.2" fill="#2e2e2e" font-family="Liberation Sans" textLength="27.71" lengthAdjust="spacing" stroke="#2e2e2e" stroke-width="0.5" style="white-space:pre">IO1B</text>
<text transform="translate(831.4,317.15) scale(0.7,1)" font-size="11.2" fill="#2e2e2e" font-family="Liberation Sans" textLength="22.0" lengthAdjust="spacing" stroke="#2e2e2e" stroke-width="0.5" style="white-space:pre">R12</text>
<text transform="translate(836.4,333.85) scale(0.7,1)" font-size="11.2" fill="#2e2e2e" font-family="Liberation Sans" textLength="13.86" lengthAdjust="spacing" stroke="#2e2e2e" stroke-width="0.5" style="white-space:pre">1k</text>
<text transform="translate(789.7,351.55) scale(0.7,1)" font-size="11.2" fill="#2e2e2e" font-family="Liberation Sans" textLength="56.71" lengthAdjust="spacing" stroke="#2e2e2e" stroke-width="0.5" style="white-space:pre">R13 100k</text>
<text transform="translate(723.0,390.35) scale(0.7,1)" font-size="11.2" fill="#2e2e2e" font-family="Liberation Sans" textLength="22.14" lengthAdjust="spacing" stroke="#2e2e2e" stroke-width="0.5" style="white-space:pre">R10</text>
<text transform="translate(723.0,407.35) scale(0.7,1)" font-size="11.2" fill="#2e2e2e" font-family="Liberation Sans" textLength="22.14" lengthAdjust="spacing" stroke="#2e2e2e" stroke-width="0.5" style="white-space:pre">39k</text>
<text transform="translate(830.2,390.15) scale(0.7,1)" font-size="11.2" fill="#2e2e2e" font-family="Liberation Sans" textLength="23.43" lengthAdjust="spacing" stroke="#2e2e2e" stroke-width="0.5" style="white-space:pre">R14</text>
<text transform="translate(830.2,406.85) scale(0.7,1)" font-size="11.2" fill="#2e2e2e" font-family="Liberation Sans" textLength="24.86" lengthAdjust="spacing" stroke="#2e2e2e" stroke-width="0.5" style="white-space:pre">4k7</text>
<text transform="translate(908.2,394.15) scale(0.7,1)" font-size="11.2" fill="#2e2e2e" font-family="Liberation Sans" textLength="23.0" lengthAdjust="spacing" stroke="#2e2e2e" stroke-width="0.5" style="white-space:pre">R15</text>
<text transform="translate(908.2,406.85) scale(0.7,1)" font-size="11.2" fill="#2e2e2e" font-family="Liberation Sans" textLength="20.57" lengthAdjust="spacing" stroke="#2e2e2e" stroke-width="0.5" style="white-space:pre">10k</text>
<text transform="translate(910.4,253.15) scale(0.7,1)" font-size="11.2" fill="#2e2e2e" font-family="Liberation Sans" textLength="48.14" lengthAdjust="spacing" stroke="#2e2e2e" stroke-width="0.5" style="white-space:pre">P2  10k</text>
<text transform="translate(984.7,253.15) scale(0.7,1)" font-size="11.2" fill="#2e2e2e" font-family="Liberation Sans" textLength="47.29" lengthAdjust="spacing" stroke="#2e2e2e" stroke-width="0.5" style="white-space:pre">TR1  5k</text>
<text transform="translate(960.4,213.85) scale(0.7,1)" font-size="11.2" fill="#2e2e2e" font-family="Liberation Sans" textLength="74.86" lengthAdjust="spacing" stroke="#2e2e2e" stroke-width="0.5" style="white-space:pre">D3 1N4448</text>
<text transform="translate(1025.4,144.25) scale(0.7,1)" font-size="11.2" fill="#2e2e2e" font-family="Liberation Sans" textLength="13.71" lengthAdjust="spacing" stroke="#2e2e2e" stroke-width="0.5" style="white-space:pre">T1</text>
<text transform="translate(1016.3,156.85) scale(0.7,1)" font-size="11.2" fill="#2e2e2e" font-family="Liberation Sans" textLength="40.43" lengthAdjust="spacing" stroke="#2e2e2e" stroke-width="0.5" style="white-space:pre">BC337</text>
<text transform="translate(1090.4,187.85) scale(0.7,1)" font-size="11.2" fill="#2e2e2e" font-family="Liberation Sans" textLength="14.86" lengthAdjust="spacing" stroke="#2e2e2e" stroke-width="0.5" style="white-space:pre">T2</text>
<text transform="translate(1084.7,200.55) scale(0.7,1)" font-size="11.2" fill="#2e2e2e" font-family="Liberation Sans" textLength="38.71" lengthAdjust="spacing" stroke="#2e2e2e" stroke-width="0.5" style="white-space:pre">BD911</text>
<text transform="translate(1153.7,195.55) scale(0.7,1)" font-size="11.2" fill="#2e2e2e" font-family="Liberation Sans" textLength="14.86" lengthAdjust="spacing" stroke="#2e2e2e" stroke-width="0.5" style="white-space:pre">D4</text>
<text transform="translate(1153.7,210.55) scale(0.7,1)" font-size="11.2" fill="#2e2e2e" font-family="Liberation Sans" textLength="32.0" lengthAdjust="spacing" stroke="#2e2e2e" stroke-width="0.5" style="white-space:pre">SF28</text>
<text transform="translate(1084.7,312.15) scale(0.7,1)" font-size="11.2" fill="#2e2e2e" font-family="Liberation Sans" textLength="22.0" lengthAdjust="spacing" stroke="#2e2e2e" stroke-width="0.5" style="white-space:pre">R16</text>
<text transform="translate(1085.0,329.55) scale(0.7,1)" font-size="11.2" fill="#2e2e2e" font-family="Liberation Sans" textLength="36.43" lengthAdjust="spacing" stroke="#2e2e2e" stroke-width="0.5" style="white-space:pre">0.56R</text>
<text transform="translate(1016.4,406.85) scale(0.7,1)" font-size="11.2" fill="#2e2e2e" font-family="Liberation Sans" textLength="13.86" lengthAdjust="spacing" stroke="#2e2e2e" stroke-width="0.5" style="white-space:pre">C6</text>
<text transform="translate(1016.4,420.85) scale(0.7,1)" font-size="11.2" fill="#2e2e2e" font-family="Liberation Sans" textLength="35.0" lengthAdjust="spacing" stroke="#2e2e2e" stroke-width="0.5" style="white-space:pre">0.1µF</text>
<text transform="translate(1097.4,403.15) scale(0.7,1)" font-size="11.2" fill="#2e2e2e" font-family="Liberation Sans" textLength="13.86" lengthAdjust="spacing" stroke="#2e2e2e" stroke-width="0.5" style="white-space:pre">C7</text>
<text transform="translate(1094.0,415.85) scale(0.7,1)" font-size="11.2" fill="#2e2e2e" font-family="Liberation Sans" textLength="34.0" lengthAdjust="spacing" stroke="#2e2e2e" stroke-width="0.5" style="white-space:pre">47µF</text>
<text transform="translate(1152.9,413.45) scale(0.7,1)" font-size="11.2" fill="#2e2e2e" font-family="Liberation Sans" textLength="14.57" lengthAdjust="spacing" stroke="#2e2e2e" stroke-width="0.5" style="white-space:pre">D5</text>
<text transform="translate(1152.7,428.55) scale(0.7,1)" font-size="11.2" fill="#2e2e2e" font-family="Liberation Sans" textLength="32.86" lengthAdjust="spacing" stroke="#2e2e2e" stroke-width="0.5" style="white-space:pre">SF28</text>
<text x="25" y="275" font-size="16" fill="#222" font-family="Liberation Sans" >~</text>
<text transform="translate(43.2,276.2) scale(1,1.2)" font-size="16.2" letter-spacing="0.9" fill="#222" font-family="Liberation Sans">20V</text>
<text x="11" y="236.2" font-size="18" fill="#7e1620" font-family="Liberation Serif" textLength="13.5" lengthAdjust="spacingAndGlyphs" stroke="#7e1620" stroke-width="0.3">J1</text>
<text x="11" y="321.4" font-size="18" fill="#7e1620" font-family="Liberation Serif" textLength="13.5" lengthAdjust="spacingAndGlyphs" stroke="#7e1620" stroke-width="0.3">J2</text>
<text x="1180" y="369.5" font-size="18" fill="#7e1620" font-family="Liberation Serif" textLength="14.5" lengthAdjust="spacingAndGlyphs" stroke="#7e1620" stroke-width="0.3">J3</text>
<text x="1180" y="451" font-size="18" fill="#7e1620" font-family="Liberation Serif" textLength="14.5" lengthAdjust="spacingAndGlyphs" stroke="#7e1620" stroke-width="0.3">J4</text>
<text x="542.2" y="90.2" font-size="9.8" fill="#1e1e1e" font-family="Liberation Serif" stroke="#1e1e1e" stroke-width="0.35">13</text>
<text x="542.2" y="111.8" font-size="9.8" fill="#1e1e1e" font-family="Liberation Serif" stroke="#1e1e1e" stroke-width="0.35">12</text>
<text x="612.6" y="100.6" font-size="9.8" fill="#1e1e1e" font-family="Liberation Serif" stroke="#1e1e1e" stroke-width="0.35">14</text>
<text x="783.5" y="141" font-size="9.8" fill="#1e1e1e" font-family="Liberation Serif" stroke="#1e1e1e" stroke-width="0.35">9</text>
<text x="778.5" y="162.5" font-size="9.8" fill="#1e1e1e" font-family="Liberation Serif" stroke="#1e1e1e" stroke-width="0.35">10</text>
<text x="850" y="152.5" font-size="9.8" fill="#1e1e1e" font-family="Liberation Serif" stroke="#1e1e1e" stroke-width="0.35">8</text>
<text x="606" y="272.5" font-size="9.8" fill="#1e1e1e" font-family="Liberation Serif" stroke="#1e1e1e" stroke-width="0.35">2</text>
<text x="606" y="294" font-size="9.8" fill="#1e1e1e" font-family="Liberation Serif" stroke="#1e1e1e" stroke-width="0.35">3</text>
<text x="541" y="283.5" font-size="9.8" fill="#1e1e1e" font-family="Liberation Serif" stroke="#1e1e1e" stroke-width="0.35">1</text>
<text x="773.5" y="271.5" font-size="9.8" fill="#1e1e1e" font-family="Liberation Serif" stroke="#1e1e1e" stroke-width="0.35">7</text>
<text x="840" y="261" font-size="9.8" fill="#1e1e1e" font-family="Liberation Serif" stroke="#1e1e1e" stroke-width="0.35">5</text>
<text x="840" y="283.5" font-size="9.8" fill="#1e1e1e" font-family="Liberation Serif" stroke="#1e1e1e" stroke-width="0.35">6</text>
<text x="0" y="0" font-size="8" fill="#333" stroke="#333" stroke-width="0.15" font-family="Liberation Serif" transform="translate(572.3,255) rotate(-90)">4</text>
<text x="0" y="0" font-size="8" fill="#333" stroke="#333" stroke-width="0.15" font-family="Liberation Serif" transform="translate(572.3,323) rotate(-90)">11</text>
</svg>
</body></html>
